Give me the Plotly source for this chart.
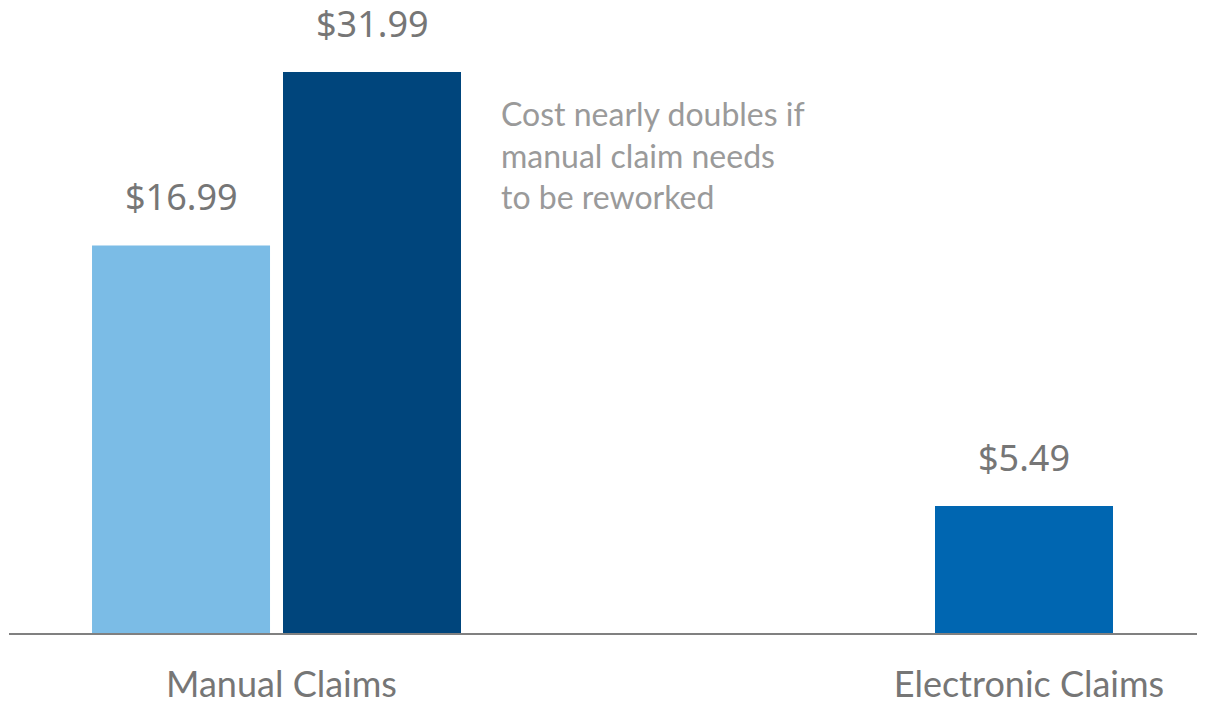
import plotly.graph_objects as go

categories = ["Manual Claims", "Electronic Claims"]
series_names = ["Manual", "Manual (reworked)", "Electronic"]
bar_heights = [22.1, 31.99, 7.24]          # heights as drawn in the reference
value_labels = ["$16.99", "$31.99", "$5.49"]
bar_categories = [0, 0, 1]
colors = ["#7BBCE6", "#00457C", "#0066B1"]
note = "Cost nearly doubles if<br>manual claim needs<br>to be reworked"

W, H = 1212, 706
L, R, T, B = 9, 15, 0, 73
plot_w = W - L - R
plot_h = H - T - B

# geometry in axis units
unit_px = 747.5
bar_w = 178 / unit_px
offsets = [-0.2468, 0.0087, -bar_w / 2]
x_range = [-(276.5 - L) / unit_px, (W - R - 276.5) / unit_px]
px_per_val = 561 / 31.99
y_range = [0, plot_h / px_per_val]

fig = go.Figure()
for i in range(3):
    fig.add_trace(go.Bar(
        x=[bar_categories[i]], y=[bar_heights[i]], name=series_names[i],
        width=bar_w, offset=offsets[i], marker_color=colors[i],
        marker_line_width=0, showlegend=False, hoverinfo="skip"))
    fig.add_annotation(
        x=bar_categories[i] + offsets[i] + bar_w / 2, y=bar_heights[i],
        text=value_labels[i], showarrow=False, yanchor="bottom", yshift=22,
        font=dict(family="Noto Sans", size=36, color="#767676"))

fig.add_annotation(
    x=0.0087 + bar_w + 38 / unit_px, y=31.99, xanchor="left", yanchor="top",
    yshift=-20, align="left", text=note, showarrow=False,
    font=dict(family="Lato", size=32, color="#9A9A9A"))

fig.update_layout(
    width=W, height=H, margin=dict(l=L, r=R, t=T, b=B, autoexpand=False),
    paper_bgcolor="white", plot_bgcolor="white", barmode="overlay",
    xaxis=dict(range=x_range, tickmode="array", tickvals=[0, 1],
               ticktext=categories, showgrid=False, zeroline=False,
               showline=True, linecolor="#808080", linewidth=2,
               automargin=False,
               ticks="", ticklabelshift=5, ticklabelstandoff=19,
               tickfont=dict(family="Lato", size=36, color="#767676")),
    yaxis=dict(range=y_range, visible=False, showgrid=False, zeroline=False,
               automargin=False),
)
fig.write_html("out.html")
